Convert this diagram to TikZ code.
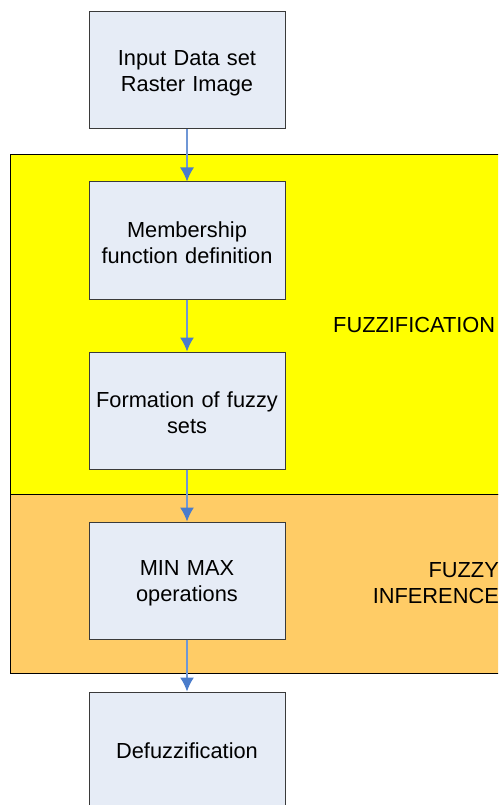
\documentclass[tikz,border=0pt]{standalone}
\usepackage{fontspec}
\setmainfont{Liberation Sans}
\usetikzlibrary{arrows.meta}
\definecolor{boxfill}{HTML}{E6ECF6}
\definecolor{boxline}{HTML}{3A3A3A}
\definecolor{fuzzyellow}{HTML}{FFFF00}
\definecolor{inforange}{HTML}{FFCC66}
\definecolor{arrowhead}{HTML}{4A7CCB}
\definecolor{arrowline}{HTML}{6F97D6}
\tikzset{
  stepbox/.style={draw=boxline, line width=1pt, fill=boxfill, minimum width=196pt,
    minimum height=117pt, inner sep=0pt, text width=194pt, align=center,
    font=\fontsize{21.8}{26}\selectfont},
  twoline/.style={execute at begin node={\rule{0pt}{21pt}}},
  flow/.style={draw=arrowline, line width=1.2pt,
    -{Latex[length=14pt,width=14pt,fill=arrowhead,color=arrowhead]}},
  region/.style={draw=black, line width=1pt},
  regionlabel/.style={font=\fontsize{21.8}{26}\selectfont, inner sep=0pt}
}
\begin{document}
\begin{tikzpicture}[x=1pt,y=-1pt]
\useasboundingbox (0,0) rectangle (498,805);
\clip (0,0) rectangle (498,805);
% stage backgrounds
\filldraw[region, fill=fuzzyellow] (10,155) rectangle (520,494);
\filldraw[region, fill=inforange] (10,494) rectangle (520,673);
\node[regionlabel, anchor=west] (lfuzz) at (333,325) {FUZZIFICATION};
\node[regionlabel, anchor=east, align=right] (linf) at (499,583) {FUZZY\\INFERENCE};
% process steps
\node[stepbox, twoline] (input) at (187,70.5) {Input Data set\\Raster Image};
\node[stepbox, twoline] (member) at (187,240.5) {Membership\\function definition};
\node[stepbox, twoline] (sets) at (187,410.5) {Formation of fuzzy\\sets};
\node[stepbox, twoline] (minmax) at (187,580.5) {MIN MAX\\operations};
\node[stepbox] (defuzz) at (187,750.5) {Defuzzification};
% connectors
\draw[flow] (input) -- (member);
\draw[flow] (member) -- (sets);
\draw[flow] (sets) -- (minmax);
\draw[flow] (minmax) -- (defuzz);
\end{tikzpicture}
\end{document}
